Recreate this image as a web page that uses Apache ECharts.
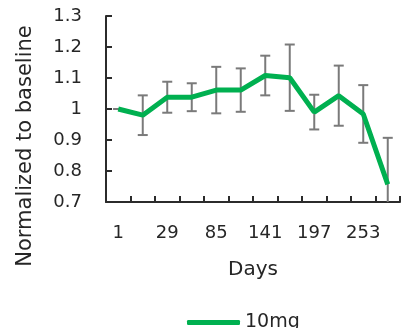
<!DOCTYPE html>
<html>
<head>
<meta charset="utf-8">
<script src="https://cdn.jsdelivr.net/npm/echarts@6/dist/echarts.min.js"></script>
<style>
  html, body { margin: 0; padding: 0; background: #fff; }
  #chart { width: 418px; height: 328px; }
</style>
</head>
<body>
<div id="chart"></div>
<script>
// days on the x axis (only every other one is labelled)
var days = ['1', '15', '29', '57', '85', '113', '141', '169', '197', '225', '253', '281'];
// mean normalized value, 10mg group
var values = [1.0, 0.98, 1.038, 1.038, 1.061, 1.061, 1.108, 1.101, 0.99, 1.043, 0.984, 0.757];
// +/- error (symmetric)
var errors = [0, 0.064, 0.05, 0.045, 0.075, 0.07, 0.064, 0.107, 0.056, 0.097, 0.093, 0.15];

var fontName = 'DejaVu Sans, sans-serif';
var axisColor = '#2b2b2b';
var textColor = '#262626';

var errData = values.map(function (v, i) {
  return [i, v - errors[i], v + errors[i]];
});

var chart = echarts.init(document.getElementById('chart'));
chart.setOption({
  animation: false,
  textStyle: { fontFamily: fontName },
  grid: { left: 106, right: 18, top: 16, bottom: 126 },
  legend: {
    data: [{ name: '10mg', icon: 'roundRect' }],
    left: 182,
    top: 308,
    itemWidth: 53,
    itemHeight: 5,
    textStyle: { fontSize: 19, color: textColor, fontFamily: fontName }
  },
  xAxis: {
    type: 'category',
    data: days,
    name: 'Days',
    nameLocation: 'middle',
    nameGap: 58,
    nameTextStyle: { fontSize: 20, color: textColor },
    axisLine: { lineStyle: { color: axisColor, width: 2 } },
    axisTick: { show: true, inside: false, length: -6, interval: 0, lineStyle: { color: axisColor, width: 2 } },
    axisLabel: { interval: 1, margin: 22, fontSize: 18, color: textColor },
    splitLine: { show: false }
  },
  yAxis: {
    type: 'value',
    min: 0.7,
    max: 1.3,
    interval: 0.1,
    name: 'Normalized to baseline',
    nameLocation: 'middle',
    nameGap: 70,
    nameTextStyle: { fontSize: 21, color: textColor, padding: [0, 74, 0, 0] },
    axisLine: { show: true, lineStyle: { color: axisColor, width: 2 } },
    axisTick: { show: true, inside: false, length: -6, lineStyle: { color: axisColor, width: 2 } },
    axisLabel: {
      margin: 24,
      fontSize: 18,
      color: textColor,
      formatter: function (v) { return String(parseFloat(v.toFixed(1))); }
    },
    splitLine: { show: false }
  },
  series: [
    {
      type: 'custom',
      name: 'error',
      clip: true,
      z: 1,
      renderItem: function (params, api) {
        var x = api.value(0);
        var lo = api.coord([x, api.value(1)]);
        var hi = api.coord([x, api.value(2)]);
        var cap = 5;
        var style = { stroke: '#7a7a7a', lineWidth: 2 };
        return {
          type: 'group',
          children: [
            { type: 'line', shape: { x1: lo[0], y1: lo[1], x2: hi[0], y2: hi[1] }, style: style },
            { type: 'line', shape: { x1: hi[0] - cap, y1: hi[1], x2: hi[0] + cap, y2: hi[1] }, style: style },
            { type: 'line', shape: { x1: lo[0] - cap, y1: lo[1], x2: lo[0] + cap, y2: lo[1] }, style: style }
          ]
        };
      },
      encode: { x: 0, y: [1, 2] },
      data: errData,
      silent: true
    },
    {
      type: 'line',
      name: '10mg',
      data: values,
      z: 3,
      showSymbol: false,
      symbol: 'none',
      lineStyle: { color: '#00b050', width: 5 },
      itemStyle: { color: '#00b050' }
    }
  ]
});
</script>
</body>
</html>
